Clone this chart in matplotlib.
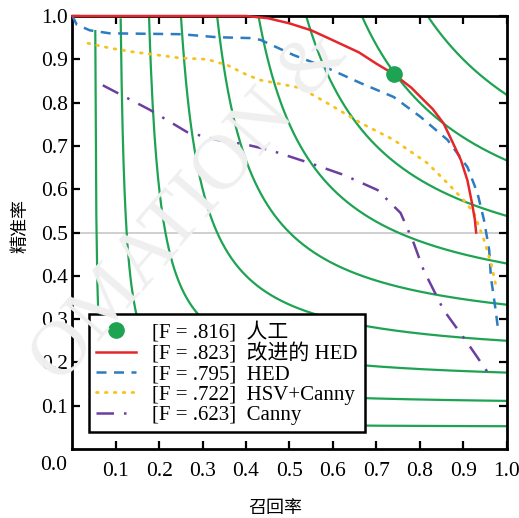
import numpy as np
import matplotlib.pyplot as plt
from matplotlib.lines import Line2D

plt.rcParams['font.family'] = ['Liberation Serif', 'Noto Sans CJK SC']

# ---------------- data ----------------
iso_f_levels = [0.1, 0.2, 0.3, 0.4, 0.5, 0.6, 0.7, 0.8, 0.9]

human_recall = [0.74]
human_precision = [0.865]

improved_recall = [0.0, 0.40, 0.45, 0.50, 0.55, 0.60, 0.66, 0.70, 0.74, 0.78, 0.80,
                   0.83, 0.855, 0.875, 0.895, 0.91, 0.92, 0.927, 0.93]
improved_precision = [1.0, 1.0, 0.995, 0.983, 0.967, 0.944, 0.916, 0.89, 0.866, 0.835,
                      0.815, 0.785, 0.752, 0.71, 0.667, 0.62, 0.57, 0.53, 0.50]

hed_recall = [0.0, 0.01, 0.04, 0.086, 0.25, 0.333, 0.41, 0.433, 0.509, 0.587, 0.664,
              0.74, 0.802, 0.864, 0.91, 0.933, 0.948, 0.96, 0.964, 0.975, 0.98]
hed_precision = [1.0, 0.98, 0.967, 0.96, 0.958, 0.951, 0.949, 0.945, 0.91, 0.88, 0.845,
                 0.813, 0.767, 0.714, 0.651, 0.591, 0.529, 0.46, 0.397, 0.32, 0.28]

hsv_recall = [0.036, 0.086, 0.14, 0.195, 0.248, 0.31, 0.356, 0.402, 0.433, 0.525, 0.587,
              0.664, 0.74, 0.818, 0.864, 0.901, 0.925, 0.948, 0.964, 0.975]
hsv_precision = [0.937, 0.926, 0.917, 0.91, 0.903, 0.90, 0.887, 0.864, 0.852, 0.834, 0.799,
                 0.753, 0.714, 0.66, 0.614, 0.575, 0.545, 0.483, 0.43, 0.38]

canny_recall = [0.07, 0.179, 0.264, 0.333, 0.405, 0.456, 0.548, 0.625, 0.703, 0.756,
                0.786, 0.809, 0.855, 0.91, 0.956]
canny_precision = [0.84, 0.783, 0.732, 0.714, 0.702, 0.690, 0.66, 0.633, 0.598, 0.545,
                   0.476, 0.413, 0.321, 0.245, 0.178]

legend_labels = ['[F = .816]  人工', '[F = .823]  改进的 HED', '[F = .795]  HED',
                 '[F = .722]  HSV+Canny', '[F = .623]  Canny']
ticks = [0.1, 0.2, 0.3, 0.4, 0.5, 0.6, 0.7, 0.8, 0.9, 1.0]

green = '#1ea352'
red = '#e5262a'
blue = '#2b7cc0'
yellow = '#f6c21c'
purple = '#6b3fa0'

fig = plt.figure(figsize=(5.19, 5.18), dpi=100)
ax = fig.add_axes([0.1395, 0.1332, 0.8365, 0.8359])
ax.patch.set_alpha(0)

# faint watermark
fig.text(0.366, 0.60, 'OMATION &', rotation=49, fontsize=56, color='#efefef',
         ha='center', va='center', zorder=0, family='Liberation Serif')

# iso-F curves
for f in iso_f_levels:
    r = np.linspace(f / (2 - f) + 1e-4, 1.0, 400)
    p = f * r / (2 * r - f)
    ax.plot(r, p, color=green, lw=1.6, zorder=2)

ax.axhline(0.5, color='#cccccc', lw=1.3, zorder=1)

ax.plot(hed_recall, hed_precision, color=blue, lw=1.8, ls=(0, (4, 3)), zorder=3)
ax.plot(hsv_recall, hsv_precision, color=yellow, lw=2.0, ls=(0, (0.6, 2.6)),
        dash_capstyle='round', zorder=3)
ax.plot(canny_recall, canny_precision, color=purple, lw=1.8, ls=(0, (7, 4, 1, 4)), zorder=3)
ax.plot(improved_recall, improved_precision, color=red, lw=1.8, zorder=4, clip_on=False)
ax.plot(human_recall, human_precision, 'o', color=green, ms=11, zorder=5)

ax.set_xlim(0, 1)
ax.set_ylim(0, 1)
ax.set_xticks(ticks)
ax.set_yticks(ticks)
ax.set_xticklabels(['%.1f' % t for t in ticks])
ax.set_yticklabels(['%.1f' % t for t in ticks])
ax.tick_params(direction='in', length=6, width=1.6, labelsize=15.5, top=True, right=True)
ax.tick_params(axis='x', pad=9)
ax.tick_params(axis='y', pad=3)
for s in ax.spines.values():
    s.set_linewidth(2.0)
ax.text(-0.012, -0.038, '0.0', transform=ax.transAxes, ha='right', va='center', fontsize=15.5)

fig.text(275 / 519, 1 - 508 / 518, '召回率', ha='center', va='center', fontsize=13,
         family='Noto Sans CJK SC')
fig.text(20 / 519, 1 - 226 / 518, '精准率', ha='center', va='center', fontsize=13,
         rotation=90, family='Noto Sans CJK SC')

handles = [
    Line2D([], [], marker='o', color=green, ls='none', ms=11),
    Line2D([], [], color=red, lw=1.8),
    Line2D([], [], color=blue, lw=1.8, ls=(0, (4, 3))),
    Line2D([], [], color=yellow, lw=2.0, ls=(0, (0.6, 2.6)), dash_capstyle='round'),
    Line2D([], [], color=purple, lw=1.8, ls=(0, (7, 4, 1, 4))),
]
leg = ax.legend(handles, legend_labels, loc='lower left', bbox_to_anchor=(0.038, 0.039),
                borderaxespad=0, fancybox=False, framealpha=1, edgecolor='black',
                fontsize=15, handlelength=1.9, handletextpad=0.8, labelspacing=0.03,
                borderpad=0.35)
leg.get_frame().set_linewidth(1.8)
leg.set_zorder(6)

fig.savefig('out.png', dpi=100)
